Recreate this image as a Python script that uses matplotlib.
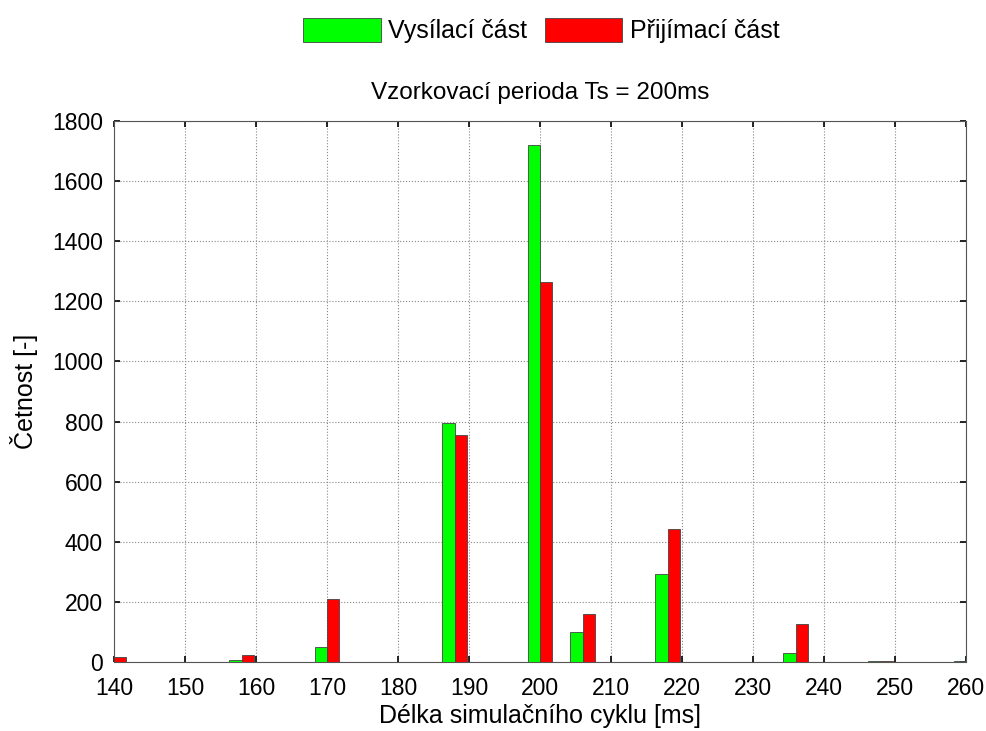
import numpy as np
import matplotlib.pyplot as plt

plt.rcParams['font.family'] = ['Liberation Sans', 'DejaVu Sans']

# histogram bin centres [ms] and counts for both parts
bins = np.arange(140, 261, 6)
vysilaci = [0, 0, 0, 5, 0, 49, 0, 0, 795, 0, 1720, 99, 0, 293, 0, 0, 30, 0, 4, 0, 4]
prijimaci = [18, 0, 0, 23, 0, 208, 0, 0, 755, 0, 1265, 159, 0, 442, 0, 0, 126, 0, 4, 0, 0]

fig = plt.figure(figsize=(9.86, 7.31), dpi=100)
ax = fig.add_axes([0.1156, 0.0944, 0.8641, 0.7401])

w = 1.75
ax.bar(bins - w / 2, vysilaci, width=w, color=(0, 1, 0), edgecolor='#444444',
       linewidth=0.6, label='Vysílací část', zorder=3)
ax.bar(bins + w / 2, prijimaci, width=w, color=(1, 0, 0), edgecolor='#444444',
       linewidth=0.6, label='Přijímací část', zorder=3)

ax.set_xlim(140, 260)
ax.set_ylim(0, 1800)
ax.set_xticks(np.arange(140, 261, 10))
ax.set_yticks(np.arange(0, 1801, 200))
ax.grid(True, color='#888888', linestyle=':', linewidth=0.8, zorder=0)
ax.tick_params(direction='in', top=True, right=True, length=4, width=1.2,
               labelsize=16.5)
ax.tick_params(axis='x', pad=11)
ax.tick_params(axis='y', pad=8)
for s in ax.spines.values():
    s.set_linewidth(0.8)
    s.set_color('#555555')

ax.set_xlabel('Délka simulačního cyklu [ms]', fontsize=18, labelpad=3)
ax.set_ylabel('Četnost [-]', fontsize=18, labelpad=10)
ax.set_title('Vzorkovací perioda Ts = 200ms', fontsize=17.5, pad=16)

fig.legend(loc='center', bbox_to_anchor=(0.549, 0.958), ncol=2, frameon=False,
           fontsize=18, handlelength=3.1, handleheight=1.08, handletextpad=0.3,
           columnspacing=0.7)

fig.savefig('out.png', dpi=100)
